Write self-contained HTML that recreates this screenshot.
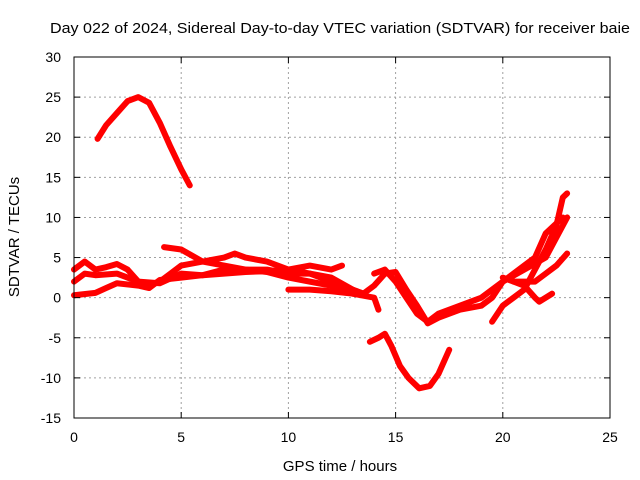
<!DOCTYPE html>
<html><head><meta charset="utf-8"><style>
body{margin:0;background:#fff}
svg{display:block;font-family:"Liberation Sans",sans-serif}
</style></head><body>
<svg id="chart" width="640" height="480" viewBox="0 0 640 480">
<text x="340" y="33" text-anchor="middle" font-size="15" textLength="580" lengthAdjust="spacingAndGlyphs">Day 022 of 2024, Sidereal Day-to-day VTEC variation (SDTVAR) for receiver baie</text>
<text x="340" y="471" text-anchor="middle" font-size="15">GPS time / hours</text>
<text transform="translate(19,237) rotate(-90)" text-anchor="middle" font-size="15">SDTVAR / TECUs</text>
<g id="grid"></g><g id="series"></g><g id="axes"></g>
</svg>
<script>
const xTicks=[0,5,10,15,20,25];
const yTicks=[-15,-10,-5,0,5,10,15,20,25,30];
const arcSeries=[[1.1,19.8],[1.5,21.5],[2,23],[2.5,24.5],[3,25],[3.5,24.3],[4,21.8],[4.5,18.8],[5,16],[5.4,14]];
const troughSeries=[[13.8,-5.5],[14.2,-5],[14.5,-4.5],[14.8,-6],[15.2,-8.5],[15.6,-10],[16.1,-11.3],[16.6,-11],[17,-9.5],[17.5,-6.5]];
const seriesC=[[0,0.3],[1,0.6],[1.5,1.2],[2,1.8],[3,1.5],[3.5,1.2],[4,2.2],[5,2.5],[6,2.8],[7,3],[8,3.2],[9,3.3],[10,3.5],[11,3],[12,2],[13,1],[13.5,0.5],[14,1.5],[14.5,3],[15,3.2],[15.5,1],[16,-1],[16.5,-3.2],[17,-2.5],[18,-1.5],[19,-1],[19.5,0],[20,2],[21,3.5],[22,5],[22.5,7.5],[23,10]];
const seriesD=[[0,3.5],[0.5,4.5],[1,3.5],[1.5,3.8],[2,4.2],[2.5,3.5],[3,2],[3.5,1.5],[4,2],[4.5,3],[5,4],[6,4.5],[7,5],[7.5,5.5],[8,5],[9,4.5],[10,3.5],[11,4],[12,3.5],[12.5,4]];
const seriesE=[[0,2],[0.5,3],[1,2.8],[2,3],[3,2],[4,1.8],[5,3],[6,2.8],[7,3.5],[8,3.5],[9,3.5],[10,3],[11,3],[12,2.5],[13,1],[13.5,0.5]];
const seriesF=[[4.2,6.3],[5,6],[6,4.5],[7,4],[8,3.5],[9,3.2],[10,2.5],[11,2],[12,1.5],[13,0.5],[14,0],[14.2,-1.5]];
const seriesG=[[10,1],[11,1],[12,0.8],[13,0.5],[13.5,0.3]];
const seriesH=[[19.5,-3],[20,-1],[20.5,0],[21,1],[21.5,3.5],[22,6],[22.5,9],[22.8,12.5],[23,13]];
const seriesI=[[20,2.5],[20.5,2],[21,1.5],[21.5,0],[21.7,-0.5],[22,0],[22.3,0.5]];
const seriesJ=[[20.5,2],[21,2],[21.5,2],[22,3],[22.5,4],[23,5.5]];
const seriesK=[[14,3],[14.5,3.5],[15,2],[15.5,0],[16,-2],[16.5,-3],[17,-2],[18,-1],[19,0],[20,2],[21,4],[21.5,5],[22,8],[22.8,10]];
const allSeries=[arcSeries,troughSeries,seriesC,seriesD,seriesE,seriesF,seriesG,seriesH,seriesI,seriesJ,seriesK];
const X0=74,X1=610,Y0=418,Y1=57,xmin=0,xmax=25,ymin=-15,ymax=30;
const sx=v=>X0+(v-xmin)/(xmax-xmin)*(X1-X0);
const sy=v=>Y0-(v-ymin)/(ymax-ymin)*(Y0-Y1);
const NS="http://www.w3.org/2000/svg";
const mk=(t,a,p)=>{const e=document.createElementNS(NS,t);for(const k in a)e.setAttribute(k,a[k]);p.appendChild(e);return e;};
const grid=document.getElementById('grid'),axes=document.getElementById('axes'),ser=document.getElementById('series');
xTicks.forEach(t=>{
  if(t>xmin&&t<xmax){const g=mk('line',{x1:sx(t),x2:sx(t),y1:Y1,y2:Y0,stroke:'#a0a0a0','stroke-dasharray':'2,3'},grid);
  
  }
  mk('line',{x1:sx(t),x2:sx(t),y1:Y0,y2:Y0-6,stroke:'#000'},axes);
  mk('line',{x1:sx(t),x2:sx(t),y1:Y1,y2:Y1+6,stroke:'#000'},axes);
  const l=mk('text',{x:sx(t),y:Y0+24,'text-anchor':'middle','font-size':14},axes);l.textContent=t;
  
  
});
yTicks.forEach(t=>{
  if(t>ymin&&t<ymax){const g=mk('line',{x1:X0,x2:X1,y1:sy(t),y2:sy(t),stroke:'#a0a0a0','stroke-dasharray':'2,3'},grid);
  
  }
  mk('line',{x1:X0,x2:X0+6,y1:sy(t),y2:sy(t),stroke:'#000'},axes);
  mk('line',{x1:X1,x2:X1-6,y1:sy(t),y2:sy(t),stroke:'#000'},axes);
  const l=mk('text',{x:X0-13,y:sy(t)+5,'text-anchor':'end','font-size':14},axes);l.textContent=t;
  
  
});
const fr=mk('rect',{x:X0,y:Y1,width:X1-X0,height:Y0-Y1,fill:'none',stroke:'#000'},axes);


allSeries.forEach((s,i)=>{
  const p=mk('polyline',{points:s.map(d=>sx(d[0])+','+sy(d[1])).join(' '),fill:'none',stroke:'#ff0000','stroke-width':6,'stroke-linejoin':'round','stroke-linecap':'round'},ser);
  
  
});
</script>
</body></html>
